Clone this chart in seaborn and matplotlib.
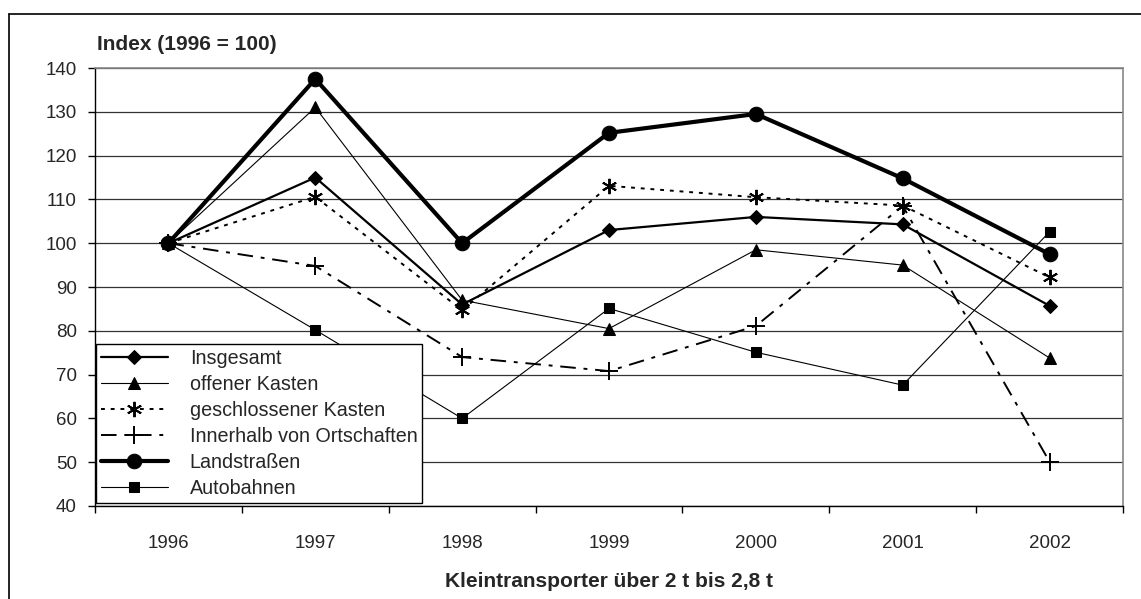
import matplotlib
matplotlib.use("Agg")
import matplotlib.pyplot as plt
import seaborn as sns
import pandas as pd
from matplotlib.lines import Line2D

years = ["1996", "1997", "1998", "1999", "2000", "2001", "2002"]
insgesamt = [100, 115, 86, 103, 106, 104.3, 85.7]
offener_kasten = [100, 131, 87, 80.5, 98.5, 95, 73.8]
geschlossener_kasten = [100, 110.6, 84.7, 113.1, 110.5, 108.6, 92.2]
innerhalb = [100, 94.8, 74, 70.8, 81.1, 108.5, 50.1]
landstrassen = [100, 137.5, 100, 125.2, 129.5, 114.8, 97.5]
autobahnen = [100, 80.2, 60, 85.1, 75.1, 67.6, 102.6]

series_names = ["Insgesamt", "offener Kasten", "geschlossener Kasten",
                "Innerhalb von Ortschaften", "Landstraßen", "Autobahnen"]
series_values = [insgesamt, offener_kasten, geschlossener_kasten,
                 innerhalb, landstrassen, autobahnen]

sns.set_theme(style="white")
plt.rcParams["font.family"] = ["Liberation Sans", "DejaVu Sans"]

fig = plt.figure(figsize=(11.41, 5.99), dpi=100)
W, H = 1141, 599
ax = fig.add_axes([95 / W, (H - 506) / H, (1123 - 95) / W, (506 - 68) / H])

styles = [
    dict(marker="D", markersize=7.5, lw=1.6, linestyle="-"),
    dict(marker="^", markersize=9, lw=0.8, linestyle="-"),
    dict(marker=(6, 2, 0), markersize=11, lw=1.4, linestyle=(0, (2, 3)), markeredgewidth=1.4),
    dict(marker="+", markersize=13, lw=1.4, linestyle=(0, (8, 4, 2, 4)), markeredgewidth=1.4),
    dict(marker="o", markersize=10.5, lw=3.0, linestyle="-"),
    dict(marker="s", markersize=7, lw=0.8, linestyle="-"),
]

xpos = list(range(len(years)))
for name, vals, st in zip(series_names, series_values, styles):
    df = pd.DataFrame({"x": xpos, "y": vals})
    sns.lineplot(data=df, x="x", y="y", ax=ax, color="black", label=name,
                 markeredgecolor="black", markerfacecolor="black", zorder=3, **st)

ax.set_xlim(-0.5, 6.5)
ax.set_ylim(40, 140)
ax.set_yticks(range(40, 141, 10))
ax.yaxis.grid(True, color="#333333", lw=0.9)
ax.xaxis.grid(False)
ax.set_axisbelow(True)

ax.set_xticks([i - 0.5 for i in range(8)])
ax.set_xticklabels([])
ax.set_xticks(xpos, minor=True)
ax.set_xticklabels(years, minor=True)
ax.tick_params(axis="x", which="major", direction="out", length=5, width=1, color="black", bottom=True)
ax.tick_params(axis="x", which="minor", length=0, labelsize=13.5, pad=21)
ax.tick_params(axis="y", direction="out", length=5, width=1, color="black", left=True,
               labelsize=13.5, pad=8)

for side in ["left", "bottom"]:
    ax.spines[side].set_color("black")
    ax.spines[side].set_linewidth(1)
for side in ["top", "right"]:
    ax.spines[side].set_color("#888888")
    ax.spines[side].set_linewidth(1.2)

ax.set_xlabel("Kleintransporter über 2 t bis 2,8 t", fontsize=15, fontweight="bold", labelpad=14)
ax.set_ylabel("")
fig.text(97 / W, 1 - 45 / H, "Index (1996 = 100)", fontsize=15, fontweight="bold",
         ha="left", va="center")

leg = ax.legend(loc="lower left", bbox_to_anchor=(96 / W, (H - 503) / H),
                bbox_transform=fig.transFigure, fontsize=14.2, frameon=True,
                fancybox=False, edgecolor="black", framealpha=1,
                handlelength=3.4, handletextpad=1.1, labelspacing=0.36,
                borderpad=0.25, borderaxespad=0)
leg.get_frame().set_linewidth(1)
leg.set_zorder(5)

fig.add_artist(Line2D([9 / W, 9 / W], [0, 1 - 14 / H], color="black", lw=1.2, transform=fig.transFigure))
fig.add_artist(Line2D([9 / W, 1], [1 - 14 / H, 1 - 14 / H], color="black", lw=1.2, transform=fig.transFigure))

fig.savefig("out.png", dpi=100)
